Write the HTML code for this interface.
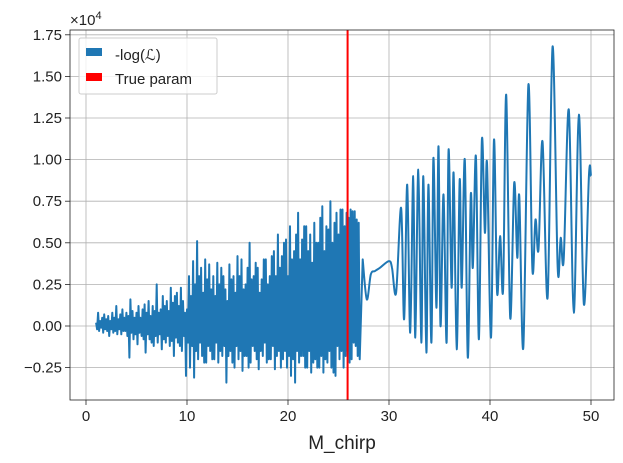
<!DOCTYPE html>
<html><head><meta charset="utf-8"><style>
body{margin:0;background:#fff;}
svg{display:block;font-family:"Liberation Sans","DejaVu Sans",sans-serif;}
</style></head><body>
<svg id="chart" width="623" height="463" viewBox="0 0 623 463">
<g id="grid"></g>
<g id="series"></g>
<g id="axes"></g>
<text x="70" y="25" font-size="15" fill="#222">×10<tspan dy="-6" font-size="11">4</tspan></text>
<text x="342" y="449" font-size="19" text-anchor="middle" fill="#222">M_chirp</text>
<g>
<rect x="79" y="38" width="138" height="56" fill="#fff" fill-opacity="0.8" stroke="#ccc" stroke-width="1" rx="2"/>
<rect x="86" y="48" width="16" height="8" fill="#1f77b4"/>
<text x="115" y="60" font-size="15" fill="#222">-log(ℒ)</text>
<rect x="86" y="73" width="16" height="8" fill="#ff0000"/>
<text x="115" y="84" font-size="15" fill="#222">True param</text>
</g>
</svg>
<script>
const xTicks=[0,10,20,30,40,50];
const yTicks=[-0.25,0,0.25,0.5,0.75,1.0,1.25,1.5,1.75];
const yTickLabels=["−0.25","0.00","0.25","0.50","0.75","1.00","1.25","1.50","1.75"];
const trueParam=25.9;
// dense region: highs at M=1.0+0.2k, lows at M+0.1 (units 1e4)
const denseStart=1.0, denseStep=0.2;
const denseHighs=[.02,.08,.03,.05,.07,.04,.06,.03,.08,.05,
.12,.04,.07,.10,.05,.08,.06,.16,.09,.05,
.08,.12,.05,.10,.13,.08,.15,.06,.12,.09,
.25,.08,.10,.18,.12,.15,.09,.23,.14,.18,
.20,.12,.23,.15,.08,.10,.30,.18,.39,.25,
.51,.30,.35,.20,.40,.28,.37,.22,.30,.18,
.38,.25,.35,.30,.22,.15,.37,.28,.30,.20,
.42,.30,.40,.22,.25,.35,.50,.28,.30,.38,
.35,.20,.28,.40,.40,.25,.30,.42,.45,.30,
.55,.35,.42,.50,.52,.30,.60,.40,.45,.55,
.68,.40,.52,.60,.60,.45,.55,.38,.62,.50,
.50,.65,.72,.45,.60,.58,.75,.50,.62,.68,
.55,.70,.70,.60,.68,.65,.70,.69,.69,.64,
.62];
const denseLows=[-.02,-.03,-.01,-.04,-.02,-.03,-.06,-.02,-.04,-.03,
-.05,-.02,-.05,-.03,-.03,-.06,-.19,-.04,-.08,-.05,
-.11,-.04,-.06,-.08,-.16,-.05,-.08,-.10,-.12,-.06,
-.10,-.05,-.14,-.08,-.10,-.06,-.12,-.09,-.18,-.07,
-.10,-.12,-.15,-.06,-.30,-.10,-.25,-.12,-.31,-.15,
-.20,-.10,-.18,-.22,-.22,-.12,-.15,-.20,-.20,-.10,
-.22,-.15,-.18,-.12,-.34,-.18,-.15,-.22,-.25,-.12,
-.20,-.15,-.27,-.18,-.18,-.25,-.22,-.12,-.15,-.20,
-.26,-.15,-.18,-.10,-.22,-.20,-.20,-.12,-.26,-.18,
-.15,-.25,-.20,-.15,-.25,-.18,-.30,-.20,-.34,-.15,
-.22,-.18,-.18,-.25,-.25,-.15,-.28,-.22,-.20,-.25,
-.25,-.18,-.28,-.20,-.22,-.15,-.25,-.28,-.30,-.12,
-.20,-.15,-.25,-.18,-.15,-.22,-.20,-.10,-.12,-.18,
-.20];
// smooth region extrema
const smoothM=[27.4,27.8,28.2,28.6,29.1,30.0,30.3,30.7,31.2,31.5,31.8,32.1,32.4,32.6,32.9,33.2,33.4,33.7,33.9,34.2,34.4,34.7,34.9,35.1,35.4,35.7,35.9,36.2,36.4,36.7,37.0,37.2,37.5,37.8,38.1,38.3,38.6,38.9,39.2,39.5,39.7,40.1,40.4,40.7,41.0,41.3,41.6,42.0,42.4,42.7,42.9,43.3,43.8,44.2,44.5,44.8,45.2,45.7,46.2,46.7,47.0,47.3,47.8,48.3,48.8,49.3,49.8,50.0];
const smoothV=[.40,.16,.31,.33,.35,.39,.35,.20,.71,.04,.85,-.04,.90,-.07,.94,-.10,.90,-.16,.85,-.10,1.01,.11,1.08,0.0,.79,-.10,1.06,.23,.92,-.14,.88,.23,1.00,-.19,.79,.35,1.02,-.08,1.12,.56,.98,-.07,1.12,.20,.54,.22,1.39,.05,.86,.41,.78,-.13,1.45,.34,.64,.46,1.11,.17,1.68,.35,.53,.40,1.30,.08,1.27,.13,.91,.90];

const L=70,R=614,T=30,B=400;
const xs=m=>86+10.1*m;
const ys=v=>326-166.4*v;
const NS="http://www.w3.org/2000/svg";
function mk(tag,attrs,parent){const e=document.createElementNS(NS,tag);for(const k in attrs)e.setAttribute(k,attrs[k]);parent.appendChild(e);return e;}
const grid=document.getElementById('grid'),axes=document.getElementById('axes'),series=document.getElementById('series');
xTicks.forEach(t=>{
 const gl=mk('line',{x1:xs(t),x2:xs(t),y1:T,y2:B,stroke:'#b0b0b0','stroke-width':0.8},grid);
 
 
 const tk=mk('line',{x1:xs(t),x2:xs(t),y1:B,y2:B+5,stroke:'#222','stroke-width':0.8},axes);
 
 
 const tx=mk('text',{x:xs(t),y:B+21,'font-size':15,'text-anchor':'middle',fill:'#222'},axes);
 tx.textContent=t;
 
 
});
yTicks.forEach((t,i)=>{
 const gl=mk('line',{x1:L,x2:R,y1:ys(t),y2:ys(t),stroke:'#b0b0b0','stroke-width':0.8},grid);
 
 
 const tk=mk('line',{x1:L-5,x2:L,y1:ys(t),y2:ys(t),stroke:'#222','stroke-width':0.8},axes);
 
 
 const tx=mk('text',{x:L-8,y:ys(t)+5,'font-size':15,'text-anchor':'end',fill:'#222'},axes);
 tx.textContent=yTickLabels[i];
 
 
});
const frame=mk('rect',{x:L,y:T,width:R-L,height:B-T,fill:'none',stroke:'#222','stroke-width':0.8},axes);


let d='';
denseHighs.forEach((h,k)=>{
 const m=denseStart+denseStep*k;
 d+=(k===0?'M':'L')+xs(m).toFixed(1)+','+ys(h).toFixed(1)+' ';
 d+='L'+xs(m+denseStep/2).toFixed(1)+','+ys(denseLows[k]).toFixed(1)+' ';
});
const P=smoothM.map((m,i)=>[xs(m),ys(smoothV[i])]);
d+='L'+P[0][0].toFixed(1)+','+P[0][1].toFixed(1)+' ';
for(let i=0;i<P.length-1;i++){
 const p0=P[Math.max(0,i-1)],p1=P[i],p2=P[i+1],p3=P[Math.min(P.length-1,i+2)];
 const c1=[p1[0]+(p2[0]-p0[0])/6,p1[1]+(p2[1]-p0[1])/6];
 const c2=[p2[0]-(p3[0]-p1[0])/6,p2[1]-(p3[1]-p1[1])/6];
 d+='C'+c1.map(v=>v.toFixed(1)).join(',')+' '+c2.map(v=>v.toFixed(1)).join(',')+' '+p2.map(v=>v.toFixed(1)).join(',')+' ';
}
const line=mk('path',{d:d,fill:'none',stroke:'#1f77b4','stroke-width':2,'stroke-linejoin':'round'},series);


const tp=mk('line',{x1:xs(trueParam),x2:xs(trueParam),y1:T,y2:B,stroke:'#ff0000','stroke-width':2},series);


</script>
</body></html>
